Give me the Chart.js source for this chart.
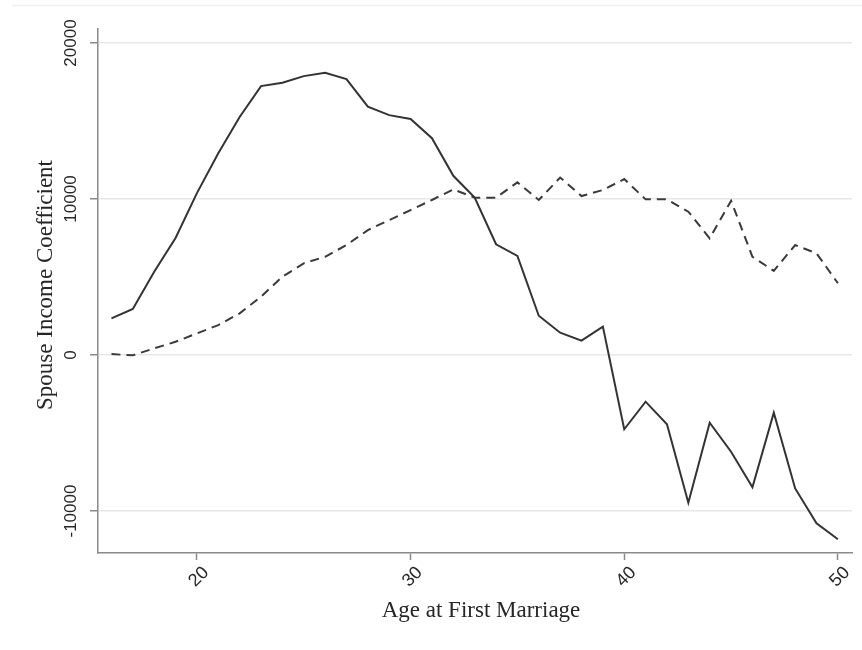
<!DOCTYPE html>
<html>
<head>
<meta charset="utf-8">
<script src="https://cdn.jsdelivr.net/npm/chart.js@4/dist/chart.umd.min.js"></script>
<style>
  html, body { margin: 0; padding: 0; background: #ffffff; }
  #wrap { width: 862px; height: 650px; }
</style>
</head>
<body>
<div id="wrap"><canvas id="c" width="862" height="650"></canvas></div>
<script>
// Age at first marriage (x)
const ages = [16,17,18,19,20,21,22,23,24,25,26,27,28,29,30,31,32,33,34,35,36,37,38,39,40,41,42,43,44,45,46,47,48,49,50];
// Solid line series
const solidSeries = [2350,2950,5340,7500,10380,12940,15260,17240,17460,17880,18100,17690,15920,15380,15130,13900,11490,10100,7100,6350,2520,1430,920,1820,-4760,-2990,-4440,-9470,-4340,-6200,-8480,-3700,-8550,-10790,-11810];
// Dashed line series
const dashedSeries = [60,-20,430,850,1390,1920,2670,3740,5020,5880,6300,7050,8010,8650,9290,9940,10620,10090,10090,11070,9940,11380,10190,10580,11280,9980,9980,9190,7480,9890,6300,5400,7050,6520,4600];
// Tick labels
const xTicks = [20,30,40,50];
const yTicks = [-10000,0,10000,20000];
const xTitle = 'Age at First Marriage';
const yTitle = 'Spouse Income Coefficient';
const xRange = [15.37, 50.66];
const yRange = [-12690, 20900];

const toPts = arr => ages.map((a, i) => ({ x: a, y: arr[i] }));

const textPlugin = {
  id: 'textPlugin',
  afterDraw(chart) {
    const ctx = chart.ctx;
    const xs = chart.scales.x;
    const ys = chart.scales.y;
    const ca = chart.chartArea;
    ctx.save();
    // faint frame line at top of graph region
    ctx.strokeStyle = '#f0f0f0';
    ctx.lineWidth = 1.5;
    ctx.beginPath();
    ctx.moveTo(12, 5.5);
    ctx.lineTo(862, 5.5);
    ctx.stroke();
    ctx.fillStyle = '#262626';
    ctx.textAlign = 'center';
    ctx.textBaseline = 'middle';
    // y tick labels (rotated)
    ctx.font = '17px "Liberation Sans", Arial, sans-serif';
    yTicks.forEach(v => {
      ctx.save();
      ctx.translate(71, ys.getPixelForValue(v));
      ctx.rotate(-Math.PI / 2);
      ctx.fillText(String(v), 0, 0);
      ctx.restore();
    });
    // x tick labels (rotated 45)
    ctx.font = '18px "Liberation Sans", Arial, sans-serif';
    xTicks.forEach(v => {
      ctx.save();
      ctx.translate(xs.getPixelForValue(v) + 2, 577);
      ctx.rotate(-Math.PI / 4);
      ctx.fillText(String(v), 0, 0);
      ctx.restore();
    });
    // y title
    ctx.font = '23px "Liberation Serif", "Times New Roman", serif';
    ctx.save();
    ctx.translate(46, (ca.top + ca.bottom) / 2 - 6);
    ctx.rotate(-Math.PI / 2);
    ctx.fillText(yTitle, 0, 0);
    ctx.restore();
    // x title
    ctx.fillText(xTitle, (ca.left + ca.right) / 2 + 6, 611);
    ctx.restore();
  }
};

new Chart(document.getElementById('c'), {
  type: 'line',
  data: {
    datasets: [
      {
        data: toPts(solidSeries),
        borderColor: '#333333',
        borderWidth: 2,
        pointRadius: 0,
        tension: 0,
        fill: false
      },
      {
        data: toPts(dashedSeries),
        borderColor: '#3a3a3a',
        borderWidth: 2,
        borderDash: [9, 6],
        pointRadius: 0,
        tension: 0,
        fill: false
      }
    ]
  },
  options: {
    responsive: false,
    animation: false,
    devicePixelRatio: 1,
    layout: { padding: { top: 29, right: 10, left: 0, bottom: 0 } },
    plugins: { legend: { display: false }, tooltip: { enabled: false } },
    scales: {
      x: {
        type: 'linear',
        min: xRange[0],
        max: xRange[1],
        afterBuildTicks: s => { s.ticks = xTicks.map(v => ({ value: v })); },
        afterFit: s => { s.height = 97; },
        grid: { drawOnChartArea: false, drawTicks: true, tickLength: 7, tickColor: '#8a8a8a', tickWidth: 1.5 },
        border: { display: true, color: '#8a8a8a', width: 1.5 },
        ticks: { display: false }
      },
      y: {
        type: 'linear',
        min: yRange[0],
        max: yRange[1],
        afterBuildTicks: s => { s.ticks = yTicks.map(v => ({ value: v })); },
        afterFit: s => { s.width = 98; },
        grid: { color: '#e8e8e8', lineWidth: 1.5, drawTicks: true, tickLength: 8, tickColor: '#8a8a8a', tickWidth: 1.5 },
        border: { display: true, color: '#8a8a8a', width: 1.5 },
        ticks: { display: false }
      }
    }
  },
  plugins: [textPlugin]
});
</script>
</body>
</html>
